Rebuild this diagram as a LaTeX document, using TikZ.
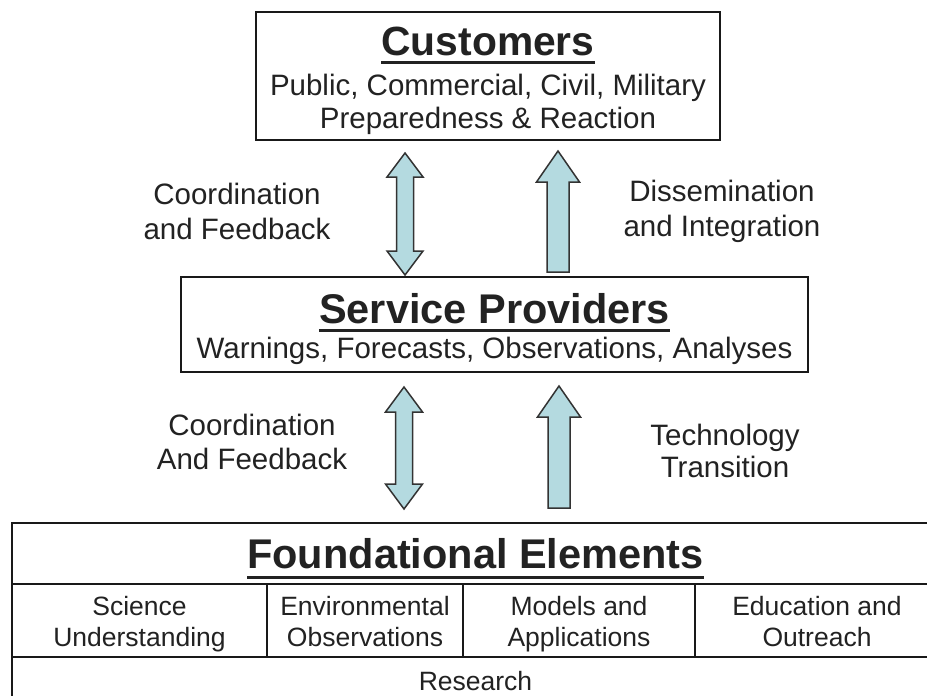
\documentclass[tikz,border=0pt]{standalone}
\usepackage{fontspec}
\setmainfont{Liberation Sans}
\definecolor{arrowblue}{RGB}{180,218,224}
\definecolor{inkgray}{RGB}{34,34,34}
\newcommand\myUpArrow[6]{% x, ytip, ybot, headhalf, shafthalf, headlen
  \draw[blk] (#1,#2) -- (#1+#4,#2+#6) -- (#1+#5,#2+#6) -- (#1+#5,#3) -- (#1-#5,#3)
    -- (#1-#5,#2+#6) -- (#1-#4,#2+#6) -- cycle;}
\newcommand\myDblArrow[6]{% x, ytop, ybot, headhalf, shafthalf, headlen
  \draw[blk] (#1,#2) -- (#1+#4,#2+#6) -- (#1+#5,#2+#6) -- (#1+#5,#3-#6) -- (#1+#4,#3-#6)
    -- (#1,#3) -- (#1-#4,#3-#6) -- (#1-#5,#3-#6) -- (#1-#5,#2+#6) -- (#1-#4,#2+#6) -- cycle;}
\begin{document}
\begin{tikzpicture}[x=1pt,y=-1pt,
  box/.style={draw=black!90, line width=2.5pt, fill=white, rectangle, inner sep=0pt},
  tbl/.style={draw=black!90, line width=2.5pt, rectangle, inner sep=0pt},
  titletext/.style={font=\bfseries\fontsize{41.5}{41.5}\selectfont, inner sep=0pt, text=inkgray, anchor=base},
  bodytext/.style={font=\fontsize{29.5}{34}\selectfont, align=center, inner sep=0pt, text=inkgray},
  celltext/.style={font=\fontsize{26.5}{31}\selectfont, align=center, inner sep=0pt, text=inkgray},
  labeltext/.style={font=\fontsize{29.5}{35}\selectfont, align=center, inner sep=0pt, text=inkgray},
  uline/.style={line width=3pt, draw=inkgray},
  blk/.style={draw=black!80, line width=1.5pt, fill=arrowblue, line join=miter}]
\useasboundingbox (0,0) rectangle (927,696);
\clip (0,0) rectangle (927,696);
\fill[white] (0,0) rectangle (927,696);

% Customers
\node[box, minimum width=464, minimum height=128] (cust) at (488,76) {};
\node[titletext, font=\bfseries\fontsize{40.8}{40.8}\selectfont] (custT) at (488,55) {Customers};
\draw[uline] ([yshift=-7pt]custT.base west) -- ([yshift=-7pt]custT.base east);
\node[bodytext, anchor=base] (custA) at (488,95) {Public, Commercial, Civil, Military};
\node[bodytext, anchor=base] (custB) at (488,128) {Preparedness \& Reaction};

% Service providers
\node[box, minimum width=627, minimum height=95] (serv) at (494.5,324.5) {};
\node[titletext] (servT) at (494.5,323) {Service Providers};
\draw[uline] ([yshift=-7.5pt]servT.base west) -- ([yshift=-7.5pt]servT.base east);
\node[bodytext, anchor=base] (servA) at (494.5,358.5) {Warnings, Forecasts, Observations, Analyses};

% Foundational elements table
\node[tbl, minimum width=927, minimum height=61] (found) at (475.5,553.5) {};
\node[tbl, minimum width=255, minimum height=73] (c1) at (139.5,620.5) {};
\node[tbl, minimum width=196, minimum height=73] (c2) at (365,620.5) {};
\node[tbl, minimum width=232, minimum height=73] (c3) at (579,620.5) {};
\node[tbl, minimum width=244, minimum height=73] (c4) at (817,620.5) {};
\node[tbl, minimum width=927, minimum height=60] (res) at (475.5,687) {};
\node[titletext] (foundT) at (475.5,568) {Foundational Elements};
\draw[uline] ([yshift=-9pt]foundT.base west) -- ([yshift=-9pt]foundT.base east);
\node[celltext] (t1) at (139.5,624.3) {\strut Science\\\strut Understanding};
\node[celltext] (t2) at (365,624.3) {\strut Environmental\\\strut Observations};
\node[celltext] (t3) at (579,624.3) {\strut Models and\\\strut Applications};
\node[celltext] (t4) at (817,624.3) {\strut Education and\\\strut Outreach};
\node[celltext, anchor=base] (resT) at (475.5,690) {Research};

% Arrows
\myDblArrow{405}{153}{275}{18}{8.5}{24}
\myUpArrow{558}{151}{272}{21.5}{11}{31}
\myDblArrow{404}{387}{509}{18.5}{8.5}{25}
\myUpArrow{559}{386}{508}{21.5}{11}{31}

% Labels
\node[labeltext] (l1) at (237,214.5) {\strut Coordination\\\strut and Feedback};
\node[labeltext] (l2) at (722,211.5) {\strut Dissemination\\\strut and Integration};
\node[labeltext, font=\fontsize{29.5}{34}\selectfont] (l3) at (252,446) {\strut Coordination\\\strut And Feedback};
\node[labeltext, font=\fontsize{29.5}{32}\selectfont] (l4) at (725,454.6) {\strut Technology\\\strut Transition};
\end{tikzpicture}
\end{document}
